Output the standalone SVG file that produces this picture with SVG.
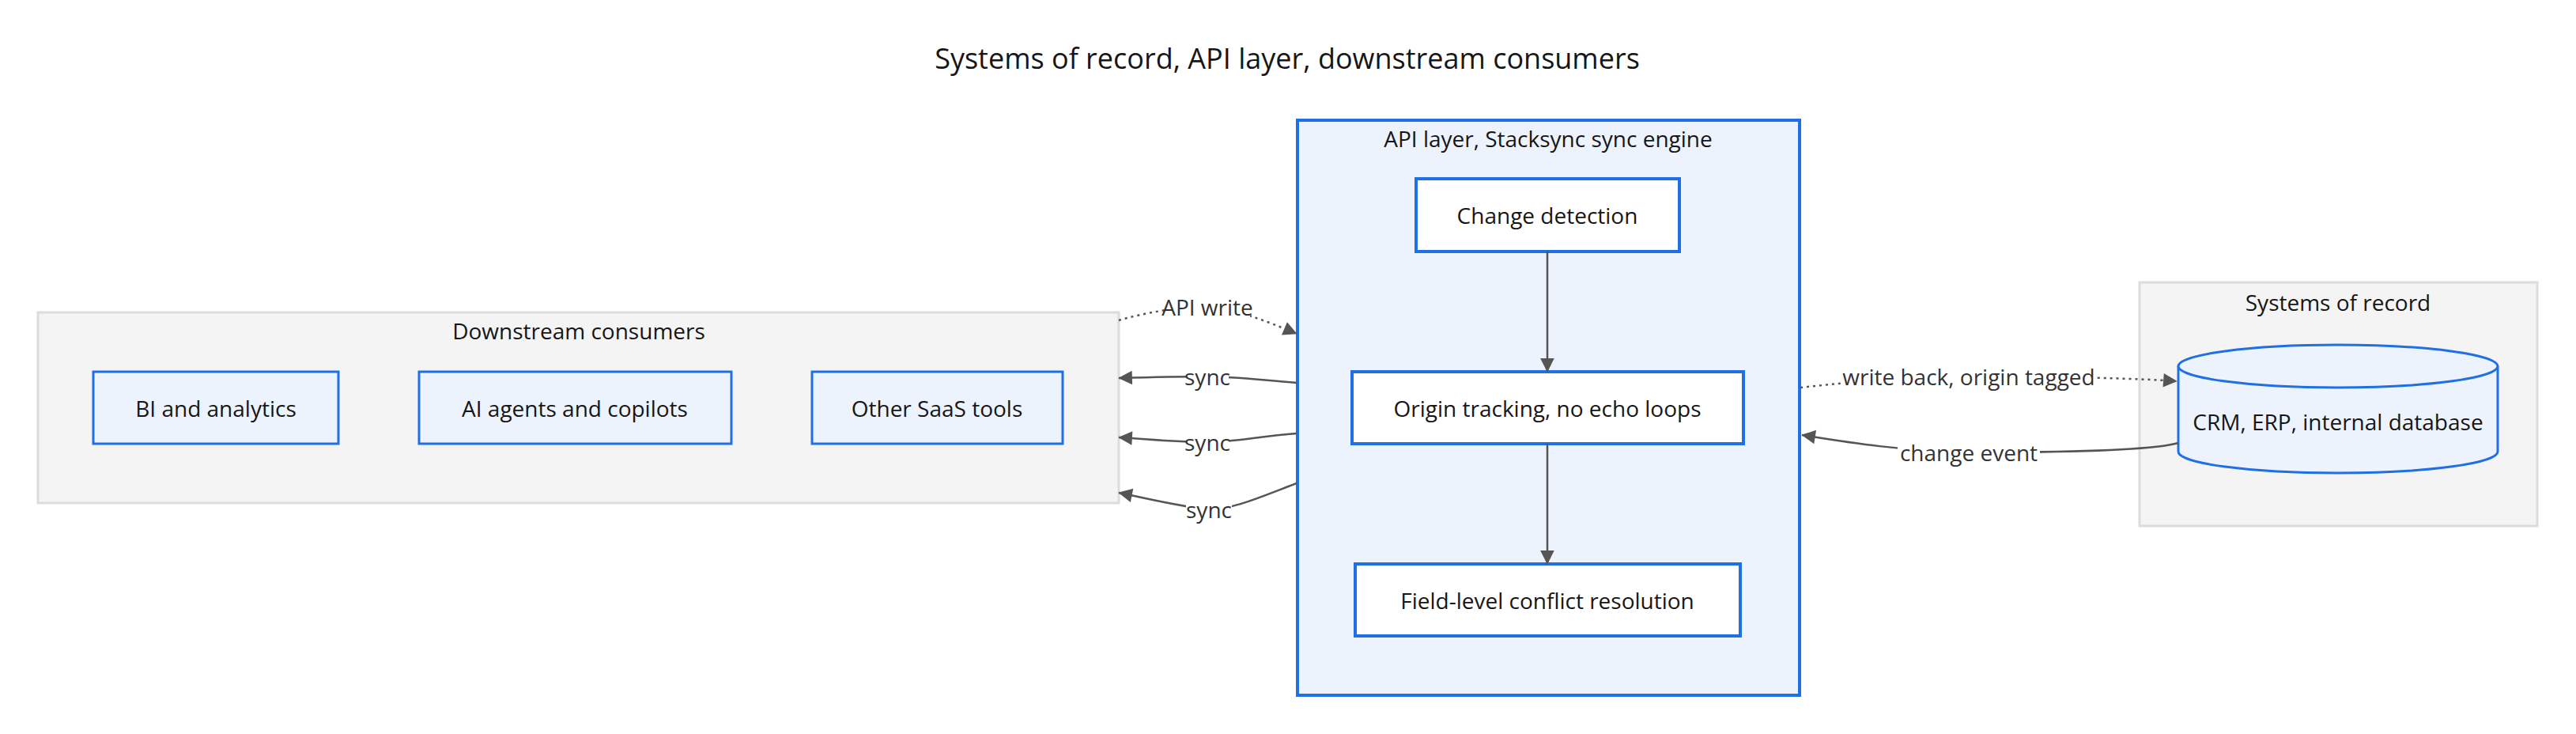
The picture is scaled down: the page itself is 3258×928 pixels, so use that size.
<svg xmlns="http://www.w3.org/2000/svg" width="3258" height="928" viewBox="0 0 3258 928">
<style>
text{font-family:"Open Sans","Noto Sans",sans-serif;fill:#161616;text-anchor:middle;dominant-baseline:central}
.t{font-size:36px}
.n{font-size:28px}
.e{font-size:28px;fill:#333}
.grp{fill:#f4f4f4;stroke:#dcdcdc;stroke-width:3}
.node{fill:#edf3fd;stroke:#1f6fe5;stroke-width:3}
.wnode{fill:#fff;stroke:#1f6fe5;stroke-width:4}
.edge{fill:none;stroke:#555;stroke-width:2.5}
.dot{stroke-dasharray:3 5}
.lbg{fill:#fff}
</style>
<defs>
<marker id="ah" viewBox="0 0 10 10" refX="9" refY="5" markerWidth="8" markerHeight="8" markerUnits="userSpaceOnUse" orient="auto" style="overflow:visible">
<path d="M0,0 L10,5 L0,10 z" fill="#555" transform="scale(2.2) translate(-5.5,-2.7)"/>
</marker>
</defs>
<rect width="3258" height="928" fill="#fff"/>
<text class="t" x="1628" y="73">Systems of record, API layer, downstream consumers</text>

<g id="downstream">
<rect class="grp" x="48" y="395" width="1367" height="241"/>
<text class="n" x="732" y="418">Downstream consumers</text>
</g>
<g id="bi"><rect class="node" x="118" y="470" width="310" height="91"/><text class="n" x="273" y="516">BI and analytics</text></g>
<g id="ai"><rect class="node" x="530" y="470" width="395" height="91"/><text class="n" x="727" y="516">AI agents and copilots</text></g>
<g id="saas"><rect class="node" x="1027" y="470" width="317" height="91"/><text class="n" x="1185" y="516">Other SaaS tools</text></g>

<g id="api">
<rect x="1641" y="152" width="635" height="727" fill="#edf3fd" stroke="#1f6fe5" stroke-width="4"/>
<text class="n" x="1958" y="175">API layer, Stacksync sync engine</text>
</g>
<g id="change"><rect class="wnode" x="1791" y="226" width="333" height="92"/><text class="n" x="1957" y="272">Change detection</text></g>
<g id="origin"><rect class="wnode" x="1710" y="470" width="495" height="91"/><text class="n" x="1957" y="516">Origin tracking, no echo loops</text></g>
<g id="conflict"><rect class="wnode" x="1714" y="713" width="487" height="91"/><text class="n" x="1957" y="759">Field-level conflict resolution</text></g>

<g id="systems">
<rect class="grp" x="2706" y="357" width="503" height="308"/>
<text class="n" x="2957" y="382">Systems of record</text>
</g>
<g id="db">
<path class="node" d="M2755,463 A202,27 0 0 1 3159,463 L3159,571 A202,27 0 0 1 2755,571 Z"/>
<path class="node" d="M2755,463 A202,27 0 0 0 3159,463" fill="none"/>
<text class="n" x="2957" y="533">CRM, ERP, internal database</text>
</g>

<g id="connectors">
<path class="edge" d="M1957,318 L1957,470" marker-end="url(#ah)"/>
<path class="edge" d="M1957,561 L1957,713" marker-end="url(#ah)"/>
<path class="edge dot" d="M1415,405 C1460,392 1500,388 1527,388 C1560,390 1600,405 1640,422" marker-end="url(#ah)"/>
<path class="edge" d="M1640,484 C1590,480 1560,476 1527,476 C1490,476 1450,477 1415,478" marker-end="url(#ah)"/>
<path class="edge" d="M1640,548 C1590,552 1560,559 1527,559 C1490,559 1450,555 1415,553" marker-end="url(#ah)"/>
<path class="edge" d="M1640,611 C1590,630 1560,644 1527,644 C1490,640 1450,630 1415,623" marker-end="url(#ah)"/>
<path class="edge dot" d="M2277,490 C2350,482 2420,476 2490,476 C2600,476 2700,478 2753,482" marker-end="url(#ah)"/>
<path class="edge" d="M2755,560 C2720,570 2600,572 2490,572 C2400,570 2330,558 2279,550" marker-end="url(#ah)"/>
<g>
<rect class="lbg" x="1473" y="370" width="108" height="34"/><text class="e" x="1527" y="388">API write</text>
<rect class="lbg" x="1500" y="459" width="54" height="34"/><text class="e" x="1527" y="476">sync</text>
<rect class="lbg" x="1500" y="542" width="54" height="34"/><text class="e" x="1527" y="559">sync</text>
<rect class="lbg" x="1500" y="627" width="58" height="34"/><text class="e" x="1529" y="644">sync</text>
<rect class="lbg" x="2330" y="459" width="320" height="34"/><text class="e" x="2490" y="476">write back, origin tagged</text>
<rect class="lbg" x="2400" y="555" width="180" height="34"/><text class="e" x="2490" y="572">change event</text>
</g>
</g>
</svg>
